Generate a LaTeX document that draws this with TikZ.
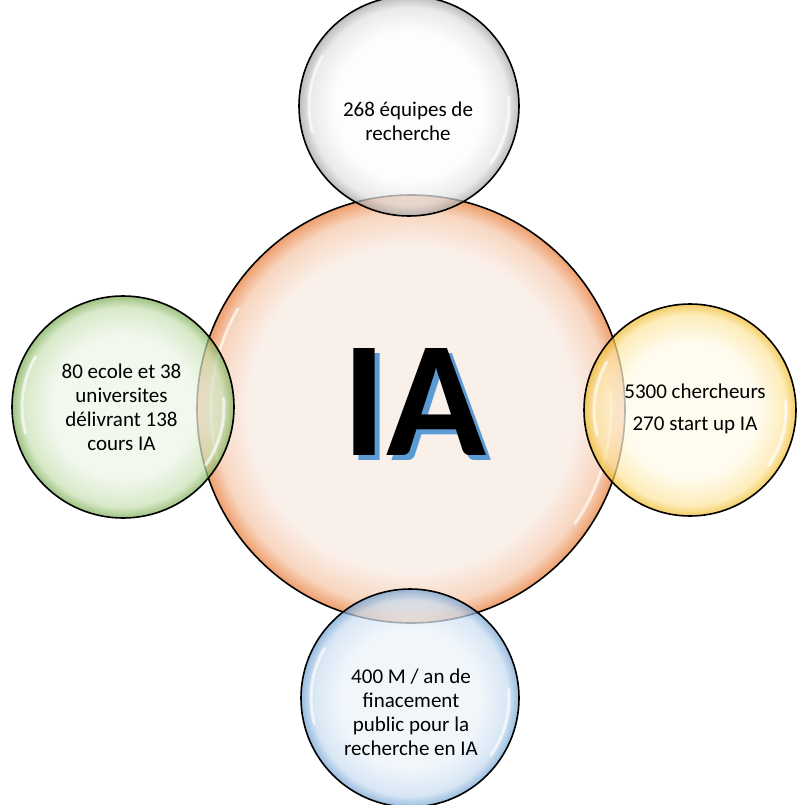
\documentclass[tikz,border=0pt]{standalone}
\usepackage{fontspec}
\setmainfont{Carlito}
\definecolor{orin}{RGB}{250,240,234}
\definecolor{ormid}{RGB}{248,214,192}
\definecolor{orout}{RGB}{238,158,108}
\definecolor{grin}{RGB}{252,252,252}
\definecolor{grmid}{RGB}{225,225,225}
\definecolor{grout}{RGB}{160,160,160}
\definecolor{gnin}{RGB}{238,245,232}
\definecolor{gnmid}{RGB}{200,225,180}
\definecolor{gnout}{RGB}{120,170,80}
\definecolor{ylin}{RGB}{255,250,232}
\definecolor{ylmid}{RGB}{253,230,160}
\definecolor{ylout}{RGB}{238,185,40}
\definecolor{blin}{RGB}{236,243,250}
\definecolor{blmid}{RGB}{200,220,240}
\definecolor{blout}{RGB}{110,160,210}
\definecolor{iablue}{RGB}{91,155,213}
\pgfdeclareradialshading{glassor}{\pgfpoint{0bp}{0bp}}{color(0bp)=(orin); color(19bp)=(orin); color(23bp)=(ormid); color(25bp)=(orout); color(50bp)=(orout)}
\pgfdeclareradialshading{glassgr}{\pgfpoint{0bp}{0bp}}{color(0bp)=(grin); color(17bp)=(grin); color(22.5bp)=(grmid); color(25bp)=(grout); color(50bp)=(grout)}
\pgfdeclareradialshading{glassgn}{\pgfpoint{0bp}{0bp}}{color(0bp)=(gnin); color(16bp)=(gnin); color(22.5bp)=(gnmid); color(25bp)=(gnout); color(50bp)=(gnout)}
\pgfdeclareradialshading{glassyl}{\pgfpoint{0bp}{0bp}}{color(0bp)=(ylin); color(16bp)=(ylin); color(22.5bp)=(ylmid); color(25bp)=(ylout); color(50bp)=(ylout)}
\pgfdeclareradialshading{glassbl}{\pgfpoint{0bp}{0bp}}{color(0bp)=(blin); color(16bp)=(blin); color(22.5bp)=(blmid); color(25bp)=(blout); color(50bp)=(blout)}
\tikzset{
  bubble/.style={circle, draw=black, line width=1.6pt, inner sep=0pt, outer sep=0pt},
  satellite/.style={bubble, fill opacity=0.72, draw opacity=1},
  label text/.style={font=\fontsize{21}{24}\selectfont, align=center, text=black, inner sep=0pt},
  shine/.style={white, line width=3pt, opacity=0.65, line cap=round},
}
\newcommand{\shineon}[2]{%
  \draw[shine] (#1) ++(150:#2) arc[start angle=150, end angle=195, radius=#2];
  \draw[shine] (#1) ++(-35:#2) arc[start angle=-35, end angle=5, radius=#2];
}
\begin{document}
\begin{tikzpicture}[x=1pt,y=1pt]
\useasboundingbox (0,0) rectangle (797,-805);
% central circle
\node[bubble, shading=glassor, minimum size=428pt] (ia circle) at (411,-409) {};
\shineon{ia circle}{200}
\node[font=\fontsize{165}{165}\selectfont\bfseries, text=iablue, inner sep=0pt] (ia shadow) at (419,-407) {IA};
\node[font=\fontsize{165}{165}\selectfont\bfseries, text=black, inner sep=0pt] (ia) at (414,-402) {IA};
% satellites
\node[satellite, shading=glassgr, minimum size=220pt] (top) at (409,-106) {};
\shineon{top}{100}
\node[satellite, shading=glassgn, minimum size=222pt] (left) at (123,-407) {};
\shineon{left}{101}
\node[satellite, shading=glassyl, minimum size=212pt] (right) at (690,-410) {};
\shineon{right}{96}
\node[satellite, shading=glassbl, minimum size=218pt] (bottom) at (410,-698) {};
\shineon{bottom}{99}
% labels
\node[label text] (top text) at (408,-121.5) {268 équipes de\\recherche};
\node[label text] (left text) at (121.5,-407.5) {80 ecole et 38\\universites\\délivrant 138\\cours IA};
\node[label text] (right text) at (695,-409) {5300 chercheurs\\[8pt]270 start up IA};
\node[label text] (bottom text) at (411,-712.5) {400 M / an de\\finacement\\public pour la\\recherche en IA};
\end{tikzpicture}
\end{document}
